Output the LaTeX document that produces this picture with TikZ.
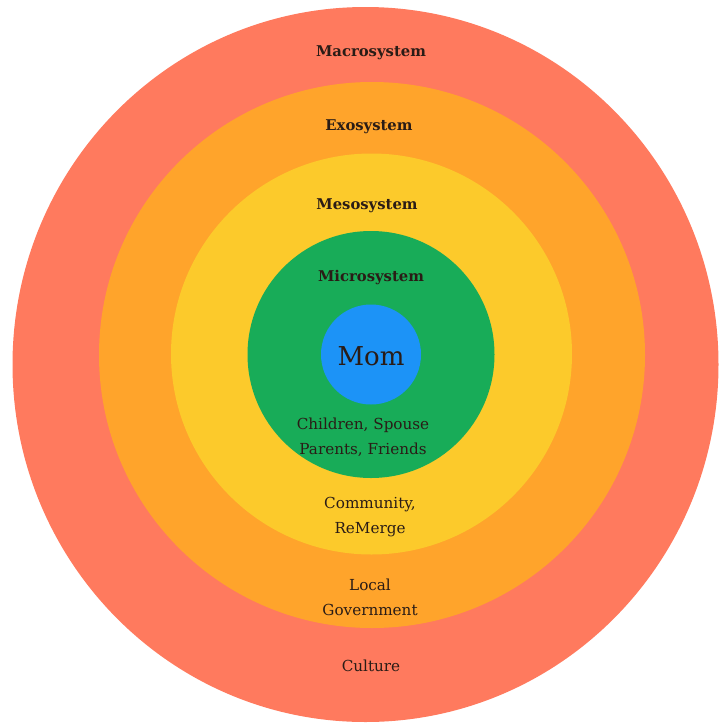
\documentclass[tikz,border=0pt]{standalone}
\usepackage{fontspec}
\usetikzlibrary{shapes.geometric}
\setmainfont{DejaVu Serif}
\definecolor{macrocol}{HTML}{FF7A5E}
\definecolor{exocol}{HTML}{FFA42B}
\definecolor{mesocol}{HTML}{FCCA2B}
\definecolor{microcol}{HTML}{18AC58}
\definecolor{momcol}{HTML}{1C93F7}
\definecolor{inkcol}{HTML}{2A1C16}
\tikzset{
  ring/.style={circle, inner sep=0pt, minimum size=#1},
  title/.style={text=inkcol, font=\fontsize{14.8}{17}\selectfont\bfseries},
  member/.style={text=inkcol, align=center, font=\fontsize{15.2}{25}\selectfont}
}
\begin{document}
\begin{tikzpicture}[x=1pt, y=-1pt]
  \useasboundingbox (0,0) rectangle (719,726);
  \node[ellipse, inner sep=0pt, minimum width=706pt, minimum height=715pt, fill=macrocol] (macro) at (365.5, 364.5) {};
  \node[ring=546pt, fill=exocol] (exo) at (372, 355) {};
  \node[ring=401pt, fill=mesocol] (meso) at (371.5, 354) {};
  \node[ring=247pt, fill=microcol] (micro) at (371, 354.5) {};
  \node[ring=100pt, fill=momcol] (mom) at (371, 354.5) {};
  \node[text=inkcol, font=\fontsize{26}{30}\selectfont] (momlbl) at (371, 356) {Mom};
  \node[title] (macrolbl) at (371, 53) {Macrosystem};
  \node[title] (exolbl) at (369, 127) {Exosystem};
  \node[title] (mesolbl) at (367, 206) {Mesosystem};
  \node[title] (microlbl) at (371, 278) {Microsystem};
  \node[member] (family) at (363, 437) {Children, Spouse\\Parents, Friends};
  \node[member] (community) at (370, 517) {Community,\\ReMerge};
  \node[member] (government) at (370, 597) {Local\\Government};
  \node[member] (culture) at (371, 666) {Culture};
\end{tikzpicture}
\end{document}
